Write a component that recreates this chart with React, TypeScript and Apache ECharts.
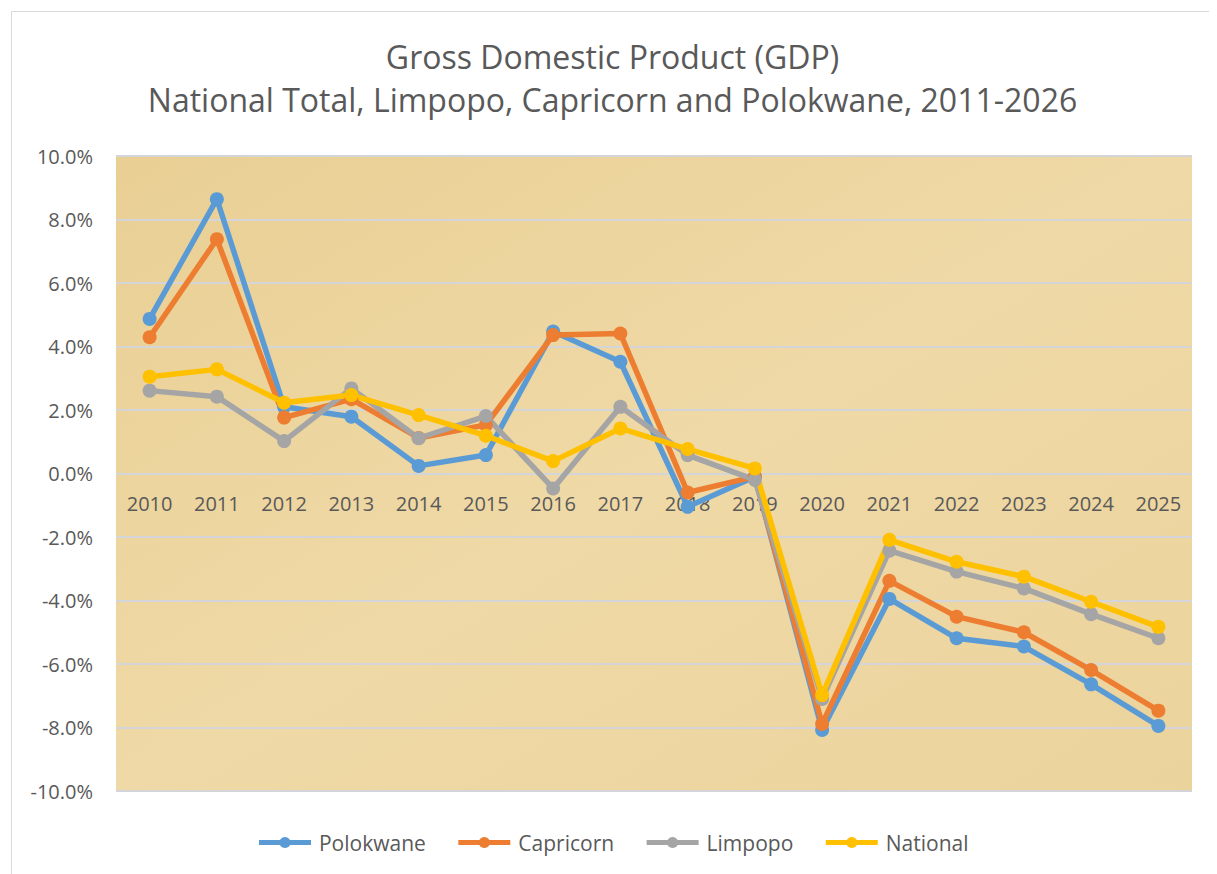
import React, { useEffect, useRef } from "react";
import * as echarts from "echarts";

const years = ["2010","2011","2012","2013","2014","2015","2016","2017","2018","2019","2020","2021","2022","2023","2024","2025"];
const polokwane = [4.87, 8.64, 2.1, 1.79, 0.24, 0.58, 4.47, 3.52, -1.05, -0.1, -8.08, -3.95, -5.19, -5.45, -6.64, -7.95];
const capricorn = [4.29, 7.38, 1.76, 2.34, 1.12, 1.53, 4.36, 4.41, -0.6, -0.1, -7.89, -3.38, -4.51, -5.0, -6.19, -7.47];
const limpopo = [2.61, 2.42, 1.02, 2.68, 1.11, 1.81, -0.47, 2.1, 0.58, -0.2, -7.1, -2.43, -3.09, -3.62, -4.43, -5.19];
const national = [3.05, 3.28, 2.23, 2.47, 1.84, 1.19, 0.39, 1.42, 0.77, 0.16, -6.98, -2.09, -2.78, -3.25, -4.04, -4.83];

const seriesDefs = [
  { name: "Polokwane", data: polokwane, color: "#5B9BD5" },
  { name: "Capricorn", data: capricorn, color: "#ED7D31" },
  { name: "Limpopo", data: limpopo, color: "#A5A5A5" },
  { name: "National", data: national, color: "#FFC000" },
];

const FONT = "'Open Sans', 'Noto Sans', sans-serif";
const GRID_TOP = 148;
const GRID_H = 635;

export default function App() {
  const ref = useRef<HTMLDivElement>(null);
  useEffect(() => {
    if (!ref.current) return;
    const chart = echarts.init(ref.current, undefined, { renderer: "svg" });
    chart.setOption({
      animation: false,
      backgroundColor: "#ffffff",
      title: {
        text: "Gross Domestic Product (GDP)\nNational Total, Limpopo, Capricorn and Polokwane, 2011-2026",
        left: "center",
        top: 22,
        textStyle: { fontFamily: FONT, fontSize: 32, fontWeight: "normal", color: "#595959", lineHeight: 43 },
      },
      graphic: [
        {
          type: "rect",
          shape: { x: 3.5, y: 3.5, width: 1204, height: 880 },
          style: { fill: "none", stroke: "#d9d9d9", lineWidth: 1 },
          silent: true,
        },
      ],
      legend: {
        bottom: 16,
        left: "center",
        itemWidth: 52,
        itemHeight: 14,
        itemGap: 30,
        lineStyle: { width: 5 },
        textStyle: { fontFamily: FONT, fontSize: 21, color: "#595959", padding: [0, 0, 0, 3] },
        data: seriesDefs.map((s) => s.name),
      },
      grid: {
        left: 108,
        top: GRID_TOP,
        width: 1076,
        height: GRID_H,
        show: true,
        backgroundColor: {
          type: "linear", x: 0, y: 0, x2: 1, y2: 1,
          colorStops: [
            { offset: 0, color: "#e9cf94" },
            { offset: 0.5, color: "#efd9a6" },
            { offset: 1, color: "#ebd39c" },
          ],
        },
        borderWidth: 0,
      },
      xAxis: {
        type: "category",
        data: years,
        boundaryGap: true,
        position: "bottom",
        offset: -(GRID_H / 2),
        axisLine: { show: false, onZero: false },
        axisTick: { show: false },
        axisLabel: { fontFamily: FONT, fontSize: 20, color: "#595959", margin: 20 },
        splitLine: { show: false },
      },
      yAxis: {
        type: "value",
        min: -10,
        max: 10,
        interval: 2,
        axisLine: { show: false },
        axisTick: { show: false },
        axisLabel: {
          fontFamily: FONT,
          fontSize: 20,
          color: "#595959",
          margin: 23,
          formatter: (v: number) => v.toFixed(1) + "%",
        },
        splitLine: { show: true, lineStyle: { color: "#d3d5d8", width: 2 } },
      },
      series: seriesDefs.map((s) => ({
        name: s.name,
        type: "line",
        data: s.data,
        symbol: "circle",
        symbolSize: 14,
        itemStyle: { color: s.color },
        lineStyle: { color: s.color, width: 5.5 },
      })),
    });
    return () => chart.dispose();
  }, []);
  return <div ref={ref} style={{ width: 1209, height: 866 }} />;
}
